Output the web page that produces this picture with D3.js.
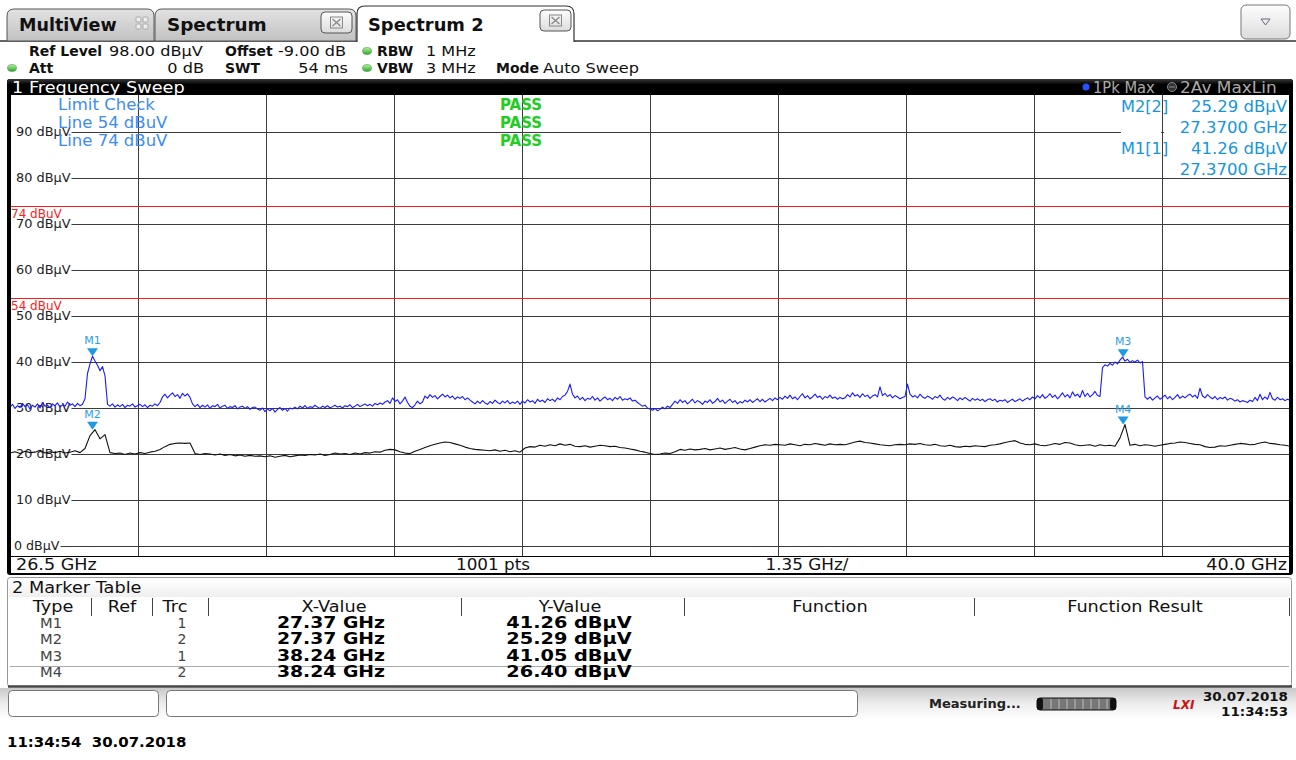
<!DOCTYPE html>
<html><head><meta charset="utf-8">
<script src="https://cdn.jsdelivr.net/npm/d3@7"></script>
<style>
body{margin:0;background:#fff;}
svg{display:block;font-family:"DejaVu Sans",Verdana,sans-serif;}
</style>
</head><body>
<svg id="c" width="1296" height="760"></svg>
<script>
// ---------------- data ----------------
const freqStart = 26.5, freqStop = 40.0;          // GHz
const refLevel = 98, bottomLevel = 0;              // dBµV
const sweepPoints = 1001;
const yTicks = [0, 10, 20, 30, 40, 50, 60, 70, 80, 90];
const limitValues = [74, 54];
const limitLabels = ["74 dBuV", "54 dBuV"];
const limitCheckRows = ["Limit Check", "Line 54 dBuV", "Line 74 dBuV"];
const limitCheckResults = ["PASS", "PASS", "PASS"];
const headerRow1 = [["Ref Level", "98.00 dBµV"], ["Offset", "-9.00 dB"], ["RBW", "1 MHz"]];
const headerRow2 = [["Att", "0 dB"], ["SWT", "54 ms"], ["VBW", "3 MHz"], ["Mode", "Auto Sweep"]];
const traceNames = ["1Pk Max", "2Av MaxLin"];

// Trace 1 (Pk Max, blue), dBµV, evenly spaced from 26.5 to 40 GHz
const trace1 = [
30.2,30.8,29.9,30.5,30.1,31.0,30.3,30.7,29.8,30.6,30.2,30.9,30.0,31.2,30.4,30.6,30.1,30.9,30.5,31.1,30.2,30.7,30.4,31.3,30.6,30.9,30.3,31.0,30.5,30.8,
32.0,37.5,39.6,41.26,40.2,39.3,38.1,39.0,37.0,30.8,
30.4,30.9,30.2,30.7,30.3,30.8,30.1,30.6,30.4,30.9,30.2,30.5,30.8,30.3,30.7,30.1,30.6,30.4,30.9,30.5,31.2,
32.4,33.0,32.2,32.8,33.3,32.5,32.9,32.1,33.2,32.6,33.1,32.3,
30.9,30.3,30.8,30.1,30.6,30.2,30.7,29.9,30.5,30.3,30.8,30.0,30.4,30.6,29.9,30.3,30.1,30.5,29.8,30.2,30.4,29.9,30.3,29.7,30.1,30.2,29.8,
29.5,30.0,29.2,29.8,29.4,29.9,29.1,29.7,30.1,29.5,29.9,29.3,30.0,29.8,
30.2,29.8,30.4,30.0,30.5,29.9,30.3,30.1,30.6,30.2,29.9,30.4,30.1,30.5,30.0,30.3,30.6,30.2,30.4,30.0,30.5,30.3,30.7,30.1,30.4,30.8,30.3,30.6,30.9,30.5,30.8,30.4,31.0,30.7,31.1,30.8,31.3,
31.6,31.0,32.2,31.4,31.8,30.9,31.5,32.4,31.2,30.4,30.1,30.7,31.5,30.9,31.3,
32.6,32.1,32.9,32.3,32.7,32.0,32.5,33.0,32.4,32.8,32.2,32.6,31.9,32.4,32.1,32.5,31.8,32.2,31.7,
31.3,30.9,31.5,31.0,31.6,31.1,30.8,31.4,31.0,31.7,31.2,30.9,31.5,31.1,31.6,30.9,31.3,31.0,31.5,30.8,
31.5,31.1,31.8,31.3,31.6,31.0,31.9,31.4,31.7,31.2,32.0,31.6,31.9,31.4,32.2,31.8,32.5,
32.8,33.6,35.2,33.0,32.2,32.6,
31.8,32.3,31.6,32.1,31.9,32.5,31.7,32.2,31.5,32.0,32.4,31.8,32.1,31.6,32.3,31.9,32.5,31.7,32.0,31.8,32.2,31.5,31.7,31.2,
30.8,30.4,30.6,30.0,29.8,29.5,29.9,29.4,29.7,30.2,29.8,30.4,30.1,30.8,
31.5,31.0,31.8,31.2,31.6,30.9,31.4,31.9,31.1,31.6,31.3,30.8,31.5,31.2,31.8,31.0,31.4,32.1,31.3,31.7,31.0,31.5,31.9,31.2,31.6,30.9,31.4,31.1,31.7,31.3,31.8,31.2,31.6,32.0,31.4,31.9,31.3,31.7,32.1,31.6,32.2,31.8,
32.3,31.9,32.6,32.1,32.8,32.0,32.4,31.8,32.5,33.1,32.2,32.7,32.0,32.4,33.0,32.3,32.6,31.9,32.5,32.2,32.8,32.1,32.4,31.9,32.3,32.0,
32.2,32.9,32.4,33.3,32.6,32.9,32.3,33.1,32.5,32.8,32.1,32.6,32.9,32.4,34.6,32.7,33.2,32.5,32.9,32.2,32.7,32.4,32.0,32.3,
32.5,35.2,33.0,32.4,
32.7,32.2,33.0,32.4,32.1,32.6,32.3,31.9,32.5,32.2,32.8,32.0,31.7,32.3,31.9,32.4,32.1,31.6,32.2,31.8,32.3,31.9,31.5,32.1,31.7,32.0,31.6,31.9,31.4,31.8,32.0,31.6,31.9,31.3,31.7,31.5,31.8,31.2,31.6,31.9,31.4,31.7,32.0,31.5,31.9,32.2,31.8,
32.4,32.0,32.7,32.2,32.9,32.1,32.5,33.1,32.3,32.8,32.0,32.6,33.3,32.4,32.9,32.2,33.5,32.6,33.0,32.3,33.8,32.5,33.2,32.4,32.9,33.6,32.7,32.5,
38.8,39.4,39.1,39.7,39.3,40.0,39.6,40.4,41.05,40.2,40.6,39.9,40.3,40.0,40.4,39.8,40.1,32.4,
31.9,32.4,31.7,32.2,32.6,31.9,32.3,32.8,32.0,32.5,31.8,32.3,32.9,32.1,32.6,32.2,32.7,33.0,32.4,32.8,32.1,34.3,32.6,32.2,32.9,32.4,32.0,32.5,31.8,32.3,32.0,32.4,31.7,32.1,31.9,31.5,31.8,31.3,31.6,31.4,31.2,31.7,31.4,32.3,31.6,33.0,31.8,32.4,31.9,33.4,32.0,31.7,32.3,31.8,32.0,31.6,31.9,31.7
];
// Trace 2 (Av MaxLin, black), dBµV
const trace2 = [
20.2,20.5,20.1,20.6,20.3,20.4,20.8,20.2,20.5,20.3,20.6,20.2,20.4,20.7,20.3,
21.2,24.0,25.29,23.3,24.2,20.3,
20.1,20.2,19.9,20.2,20.0,20.3,20.1,20.4,20.6,21.0,
21.6,22.1,22.3,22.4,22.3,22.4,
20.1,19.9,20.1,20.0,19.8,20.0,19.7,19.9,19.6,19.8,19.5,19.7,19.5,19.6,
19.4,19.6,19.3,19.5,19.7,19.4,19.6,19.8,19.7,19.9,19.8,20.0,19.7,19.9,20.2,20.0,20.1,19.9,20.2,20.0,20.3,20.2,20.5,20.4,20.8,
21.0,20.9,20.5,20.2,20.1,20.6,21.0,21.4,21.8,
22.1,22.4,22.6,22.5,22.2,21.9,21.5,21.2,
21.0,20.9,20.8,20.7,20.9,20.6,20.8,20.5,20.7,20.4,
21.3,21.6,21.5,21.9,21.7,22.0,21.8,22.2,21.9,22.1,21.7,
21.6,21.8,21.5,21.7,21.9,21.8,21.6,21.7,21.4,21.3,21.1,20.9,
20.6,20.4,20.1,19.9,20.0,20.2,20.1,20.5,
21.0,20.8,21.1,20.9,21.0,21.2,20.9,21.1,21.3,21.0,21.2,21.4,21.1,20.9,21.2,21.5,21.8,22.0,21.9,22.1,
22.0,21.9,22.2,22.0,21.8,22.1,22.0,22.3,22.1,21.9,22.2,22.0,22.1,
22.0,22.3,22.6,22.8,22.5,22.4,22.2,22.0,21.9,21.8,22.0,22.1,22.0,22.2,
22.1,22.3,22.0,21.9,22.1,21.8,21.7,21.9,21.6,21.5,21.7,21.6,21.8,21.7,21.6,21.9,22.0,22.2,22.5,22.7,
22.9,22.4,22.1,22.0,22.2,21.9,21.8,22.0,22.3,22.1,22.5,22.4,22.0,21.8,21.9,22.0,21.7,22.0,
21.8,21.9,21.7,23.5,26.4,21.9,22.1,21.8,22.0,
21.9,21.7,21.9,22.1,22.3,22.4,22.6,22.5,22.3,22.1,
22.0,21.6,21.4,21.5,21.8,21.7,21.9,22.1,22.3,22.2,
22.0,22.1,22.4,22.6,22.3,22.2,22.0,21.9,21.7
];

const markerNames = ["M1", "M2", "M3", "M4"];
const markerTraces = [1, 2, 1, 2];
const markerFreqs = [27.37, 27.37, 38.24, 38.24];   // GHz
const markerLevels = [41.26, 25.29, 41.05, 26.40];  // dBµV
const markerInfoOrder = [1, 0];                    // shown top-right: M2[2], M1[1]
const tableColumns = ["Type", "Ref", "Trc", "X-Value", "Y-Value", "Function", "Function Result"];
const statusDate = "30.07.2018", statusTime = "11:34:53";
const footerStamp = "11:34:54  30.07.2018";

// ---------------- drawing ----------------
const svg = d3.select("#c");
const defs = svg.append("defs");
function grad(id, stops) {
  const g = defs.append("linearGradient").attr("id", id).attr("x1", 0).attr("y1", 0).attr("x2", 0).attr("y2", 1);
  stops.forEach(([o, c]) => g.append("stop").attr("offset", o).attr("stop-color", c));
}
grad("tabGray", [[0, "#e2e2e2"], [1, "#c2c2c2"]]);
grad("btn", [[0, "#fdfdfd"], [1, "#dcdcdc"]]);
grad("titleBar", [[0, "#3a3a3a"], [0.35, "#000"], [1, "#000"]]);
grad("statusBg", [[0, "#c9c9c9"], [0.5, "#eeeeee"], [1, "#ffffff"]]);
grad("greenDot", [[0, "#b6f0a0"], [1, "#2ea82e"]]);
grad("tblTitle", [[0, "#ffffff"], [1, "#efefef"]]);

// widen a text horizontally (the instrument font is wider than DejaVu)
function wide(t, k) {
  const w = t.node().getComputedTextLength();
  t.attr("textLength", w * k).attr("lengthAdjust", "spacingAndGlyphs");
  return t;
}
function txt(g, x0, y0, s, size, opts = {}) {
  const t = g.append("text").attr("x", x0).attr("y", y0).attr("font-size", size).text(s);
  if (opts.bold) t.attr("font-weight", "bold");
  if (opts.anchor) t.attr("text-anchor", opts.anchor);
  if (opts.fill) t.attr("fill", opts.fill);
  if (opts.k) wide(t, opts.k);
  return t;
}

function tabPath(x0, x1, y0, y1, r) {
  return `M${x0},${y1} V${y0 + r} Q${x0},${y0} ${x0 + r},${y0} H${x1 - r} Q${x1},${y0} ${x1},${y0 + r} V${y1}`;
}
function closeBox(g, x0, y0) {
  g.append("rect").attr("x", x0).attr("y", y0).attr("width", 31).attr("height", 21).attr("rx", 4)
    .attr("fill", "url(#btn)").attr("stroke", "#555");
  g.append("rect").attr("x", x0 + 9.5).attr("y", y0 + 5).attr("width", 12).attr("height", 11)
    .attr("fill", "none").attr("stroke", "#888");
  g.append("path").attr("d", `M${x0 + 11.5},${y0 + 7} L${x0 + 19.5},${y0 + 14} M${x0 + 19.5},${y0 + 7} L${x0 + 11.5},${y0 + 14}`)
    .attr("stroke", "#888").attr("stroke-width", 1.3);
}

// tabs
const tabs = svg.append("g").attr("fill", "#111");
tabs.append("line").attr("x1", 0).attr("x2", 1296).attr("y1", 41).attr("y2", 41).attr("stroke", "#333").attr("stroke-width", 1.5);
tabs.append("path").attr("d", tabPath(7, 154, 9, 41, 7) + " Z").attr("fill", "url(#tabGray)").attr("stroke", "#555");
txt(tabs, 19, 31, "MultiView", 17, { bold: true, k: 1.03 });
[[136, 17], [143, 17], [136, 24], [143, 24]].forEach(([a, b]) =>
  tabs.append("rect").attr("x", a).attr("y", b).attr("width", 5).attr("height", 5).attr("rx", 1).attr("fill", "#eee").attr("stroke", "#aaa"));
tabs.append("path").attr("d", tabPath(155, 356, 9, 41, 7) + " Z").attr("fill", "url(#tabGray)").attr("stroke", "#555");
txt(tabs, 167, 31, "Spectrum", 17, { bold: true, k: 1.08 });
closeBox(tabs, 321, 12);
tabs.append("path").attr("d", tabPath(357, 574, 6, 42, 8)).attr("fill", "#fff").attr("stroke", "#333").attr("stroke-width", 1.2);
txt(tabs, 368, 31, "Spectrum 2", 17, { bold: true, k: 1.05 });
closeBox(tabs, 540, 10);
tabs.append("rect").attr("x", 1241).attr("y", 5).attr("width", 49).attr("height", 34).attr("rx", 5)
  .attr("fill", "url(#btn)").attr("stroke", "#777");
tabs.append("path").attr("d", "M1261,19 L1270,19 L1265.5,25 Z").attr("fill", "none").attr("stroke", "#667");

// header
const hdr = svg.append("g").attr("fill", "#111");
const r1y = 56, r2y = 73;
function lbl(xl, yy, b, v, vx, anchorEnd) {
  txt(hdr, xl, yy, b, 14, { bold: true });
  txt(hdr, vx, yy, v, 14, { anchor: anchorEnd ? "end" : "start", k: 1.15 });
}
lbl(29, r1y, headerRow1[0][0], headerRow1[0][1], 109);
lbl(225, r1y, headerRow1[1][0], headerRow1[1][1], 278);
lbl(377, r1y, headerRow1[2][0], headerRow1[2][1], 426);
lbl(29, r2y, headerRow2[0][0], headerRow2[0][1], 204, true);
lbl(225, r2y, headerRow2[1][0], headerRow2[1][1], 348, true);
lbl(377, r2y, headerRow2[2][0], headerRow2[2][1], 426);
lbl(496, r2y, headerRow2[3][0], headerRow2[3][1], 543);
[[367, 51], [12, 68], [367, 68]].forEach(([cx, cy]) =>
  hdr.append("ellipse").attr("cx", cx).attr("cy", cy).attr("rx", 4.5).attr("ry", 3.5).attr("fill", "url(#greenDot)").attr("stroke", "#3a8a3a").attr("stroke-width", 0.5));

// window frame + title bar
svg.append("rect").attr("x", 7).attr("y", 79).attr("width", 1286).attr("height", 496).attr("rx", 3).attr("fill", "#000");
svg.append("rect").attr("x", 7).attr("y", 79).attr("width", 1286).attr("height", 16).attr("rx", 3).attr("fill", "url(#titleBar)");
txt(svg, 12, 92.5, "1 Frequency Sweep", 15, { fill: "#fff", k: 1.18 });
svg.append("circle").attr("cx", 1086).attr("cy", 87).attr("r", 3.5).attr("fill", "#2255ff");
txt(svg, 1093, 92.5, traceNames[0], 15, { fill: "#aaa", k: 0.98 });
svg.append("circle").attr("cx", 1172).attr("cy", 87).attr("r", 4.5).attr("fill", "#333").attr("stroke", "#888");
svg.append("line").attr("x1", 1169).attr("x2", 1175).attr("y1", 87).attr("y2", 87).attr("stroke", "#888");
txt(svg, 1180, 92.5, traceNames[1], 15, { fill: "#aaa", k: 1.13 });

// plot area
const PL = 11, PR = 1289, PT = 95, PB = 556;
svg.append("rect").attr("x", PL).attr("y", PT).attr("width", PR - PL).attr("height", PB - PT).attr("fill", "#fff");
svg.append("rect").attr("x", PL).attr("y", PB + 1).attr("width", PR - PL).attr("height", 16).attr("fill", "#fff");

const x = d3.scaleLinear().domain([freqStart, freqStop]).range([10, 1290]);
const y = d3.scaleLinear().domain([bottomLevel, refLevel]).range([546, 546 - 4.6 * refLevel]);
const plot = svg.append("g");
defs.append("clipPath").attr("id", "pc").append("rect").attr("x", PL).attr("y", PT).attr("width", PR - PL).attr("height", PB - PT);

// vertical grid via axis
const div = (freqStop - freqStart) / 10;
const vTicks = d3.range(1, 10).map(k => freqStart + k * div);
const vAxis = d3.axisBottom(x).tickValues(vTicks).tickSize(PB - PT).tickFormat("");
const vg = plot.append("g").attr("transform", `translate(0,${PT})`).call(vAxis);
vg.select(".domain").remove();
vg.selectAll("line").attr("stroke", "#3c3c3c").attr("stroke-width", 1.2).attr("shape-rendering", "crispEdges");

// horizontal grid + labels
const yl = plot.append("g");
yTicks.forEach(v => {
  const lx = v === 0 ? 14 : 16;
  const t = txt(yl, lx, y(v) + 4, `${v} dBµV`, v === 0 ? 11.5 : 12.5, { fill: "#222", k: v === 0 ? 1.1 : 1.03 });
  const w = +t.attr("textLength");
  yl.append("line").attr("x1", lx + w + 1).attr("x2", PR).attr("y1", Math.round(y(v)) + 0.5).attr("y2", Math.round(y(v)) + 0.5)
    .attr("stroke", "#3c3c3c").attr("stroke-width", 1.2);
});

// limit lines
limitValues.forEach((v, i) => {
  plot.append("line").attr("x1", PL).attr("x2", PR).attr("y1", Math.round(y(v)) + 0.5).attr("y2", Math.round(y(v)) + 0.5)
    .attr("stroke", "#ff1a1a").attr("stroke-width", 1.2);
  txt(plot, 11, y(v) + 12.5, limitLabels[i], 12, { fill: "#ff2020" });
});

// limit check text
limitCheckRows.forEach((s, i) => {
  txt(plot, 58, 110 + i * 18, s, 15, { fill: "#3b8cf5", k: 1.1 });
  txt(plot, 500, 110 + i * 18, limitCheckResults[i], 15, { fill: "#22cc22", bold: true, k: 1.0 });
});

// white backing behind the first marker-info frequency line (hides grid line there)
plot.append("rect").attr("x", 1121).attr("y", 129).attr("width", 40).attr("height", 6).attr("fill", "#fff");
plot.append("rect").attr("x", 1164).attr("y", 129).attr("width", 125).attr("height", 6).attr("fill", "#fff");

// traces
function drawTrace(data, color) {
  const n = data.length;
  const fx = i => freqStart + i * (freqStop - freqStart) / (n - 1);
  const line = d3.line().x((d, i) => x(fx(i))).y(d => y(d));
  plot.append("path").datum(data).attr("d", line).attr("fill", "none").attr("stroke", color)
    .attr("stroke-width", 1.1).attr("stroke-linejoin", "round").attr("clip-path", "url(#pc)");
}
drawTrace(trace2, "#111");
drawTrace(trace1, "#1a1aff");

// markers on plot
markerNames.forEach((m, i) => {
  const mx = x(markerFreqs[i]), my = y(markerLevels[i]);
  plot.append("path").attr("d", `M${mx - 5.5},${my - 8} L${mx + 5.5},${my - 8} L${mx},${my} Z`).attr("fill", "#1f9be6");
  txt(plot, mx, my - 12, m, 11, { anchor: "middle", fill: "#2aa0e4" });
});

// marker info (top right)
const mi = plot.append("g").attr("fill", "#1795dd");
markerInfoOrder.forEach((k, j) => {
  const by = 112 + j * 42;
  txt(mi, 1121, by, `${markerNames[k]}[${markerTraces[k]}]`, 15, { k: 1.08 });
  txt(mi, 1287, by, `${markerLevels[k].toFixed(2)} dBµV`, 15, { anchor: "end", k: 1.1 });
  txt(mi, 1287, by + 21, `${markerFreqs[k].toFixed(4)} GHz`, 15, { anchor: "end", k: 1.1 });
});

// frequency info row
const fr = svg.append("g").attr("fill", "#111");
txt(fr, 16, 570, `${freqStart.toFixed(1)} GHz`, 15, { k: 1.17 });
txt(fr, 493, 570, `${sweepPoints} pts`, 15, { anchor: "middle", k: 1.12 });
txt(fr, 807, 570, `${div.toFixed(2)} GHz/`, 15, { anchor: "middle", k: 1.12 });
txt(fr, 1287, 570, `${freqStop.toFixed(1)} GHz`, 15, { anchor: "end", k: 1.17 });

// marker table
const tb = svg.append("g").attr("fill", "#111");
tb.append("rect").attr("x", 7.5).attr("y", 577.5).attr("width", 1284).attr("height", 109).attr("rx", 3).attr("fill", "#fff").attr("stroke", "#999");
tb.append("rect").attr("x", 9).attr("y", 579).attr("width", 1281).attr("height", 18).attr("fill", "url(#tblTitle)");
txt(tb, 12, 593, "2 Marker Table", 15, { k: 1.18 });
const colCenters = [53, 122, 175, 334, 570, 830, 1135];
const colSeps = [91, 152, 208, 461, 684, 974, 1289];
tableColumns.forEach((c, i) => txt(tb, colCenters[i], 612, c, 15, { anchor: "middle", k: 1.18 }));
colSeps.forEach(s => tb.append("line").attr("x1", s + 0.5).attr("x2", s + 0.5).attr("y1", 598).attr("y2", 616).attr("stroke", "#444"));
tb.append("line").attr("x1", 10).attr("x2", 1289).attr("y1", 666.5).attr("y2", 666.5).attr("stroke", "#aaa");
const rowY = [628, 644, 661, 677];
markerNames.forEach((m, i) => {
  txt(tb, 40, rowY[i], m, 14, { fill: "#444", k: 1.05 });
  txt(tb, 182, rowY[i], String(markerTraces[i]), 14, { anchor: "middle", fill: "#444" });
  txt(tb, 331, rowY[i], `${markerFreqs[i].toFixed(2)} GHz`, 16.5, { anchor: "middle", bold: true, fill: "#000", k: 1.14 });
  txt(tb, 569, rowY[i], `${markerLevels[i].toFixed(2)} dBµV`, 16.5, { anchor: "middle", bold: true, fill: "#000", k: 1.17 });
});
tb.append("line").attr("x1", 8).attr("x2", 1292).attr("y1", 686.5).attr("y2", 686.5).attr("stroke", "#444").attr("stroke-width", 2.5);

// status bar
const sb = svg.append("g").attr("fill", "#111");
sb.append("rect").attr("x", 0).attr("y", 688).attr("width", 1296).attr("height", 32).attr("fill", "url(#statusBg)");
sb.append("rect").attr("x", 8.5).attr("y", 690.5).attr("width", 150).attr("height", 26).attr("rx", 4).attr("fill", "#fff").attr("stroke", "#777");
sb.append("rect").attr("x", 166.5).attr("y", 690.5).attr("width", 691).attr("height", 26).attr("rx", 4).attr("fill", "#fff").attr("stroke", "#777");
txt(sb, 929, 708, "Measuring...", 13, { bold: true, fill: "#222" });
sb.append("rect").attr("x", 1037).attr("y", 698).attr("width", 79).attr("height", 12).attr("rx", 3).attr("fill", "#777").attr("stroke", "#111").attr("stroke-width", 1);
sb.append("rect").attr("x", 1037).attr("y", 698).attr("width", 6).attr("height", 12).attr("rx", 2).attr("fill", "#111");
sb.append("rect").attr("x", 1110).attr("y", 698).attr("width", 6).attr("height", 12).attr("rx", 2).attr("fill", "#111");
d3.range(1051, 1109, 8).forEach(px => sb.append("line").attr("x1", px).attr("x2", px).attr("y1", 699).attr("y2", 709).attr("stroke", "#bbb"));
txt(sb, 1173, 709, "LXI", 12, { bold: true, fill: "#d01010" }).attr("font-style", "italic");
txt(sb, 1288, 701, statusDate, 12, { anchor: "end", bold: true, k: 1.12 });
txt(sb, 1288, 716, statusTime, 12, { anchor: "end", bold: true, k: 1.12 });

txt(svg, 7, 747, footerStamp, 14, { bold: true, fill: "#000", k: 1.1 }).style("white-space", "pre");
</script>
</body></html>
